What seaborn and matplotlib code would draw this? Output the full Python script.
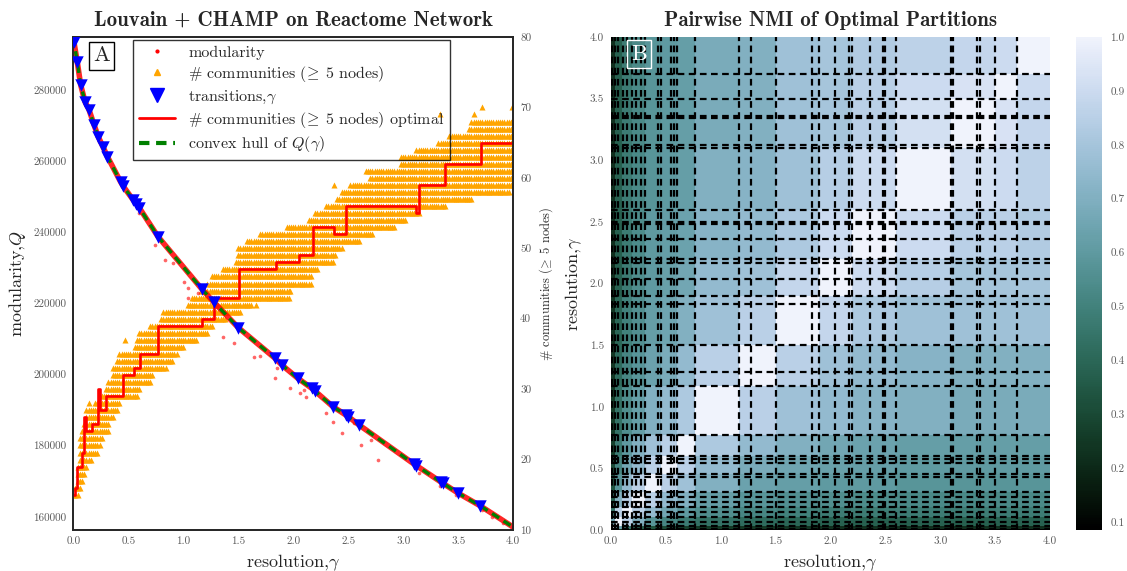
import numpy as np
import seaborn as sns
import matplotlib.pyplot as plt
from matplotlib.lines import Line2D

sns.set_style("white")
plt.rcParams['font.family'] = ['cmr10', 'DejaVu Serif']
plt.rcParams['mathtext.fontset'] = 'cm'
plt.rcParams['axes.unicode_minus'] = False

# transitions of the optimal partition (gamma) and modularity there (hull vertices)
trans_gamma = [0.0, 0.006, 0.036, 0.067, 0.107, 0.143, 0.189, 0.228, 0.271, 0.31,
               0.43, 0.455, 0.547, 0.574, 0.60, 0.77, 1.17, 1.28, 1.50, 1.83,
               1.90, 2.04, 2.17, 2.20, 2.36, 2.48, 2.50, 2.60, 3.10, 3.12,
               3.34, 3.36, 3.50, 3.70]
trans_Q = [294700, 293500, 288000, 281500, 276700, 274500, 270200, 266800, 264000, 261300,
           254200, 252900, 249000, 248000, 246900, 238800, 224000, 220300, 213200, 204700,
           202600, 199000, 196100, 195300, 191000, 188600, 188200, 185800, 174800, 174400,
           169850, 169450, 166650, 163100]
hull_gamma = trans_gamma + [4.0]
hull_Q = trans_Q + [157100]

# louvain runs that fell visibly under the hull
stray_gamma = [0.74, 0.83, 0.91, 1.01, 1.04, 1.04, 1.13, 1.36, 1.46, 1.64, 1.85, 1.83, 1.97,
               2.06, 2.12, 2.10, 2.30, 2.36, 2.44, 2.62, 2.71, 2.77, 3.14, 3.33, 3.48, 3.72,
               3.81, 3.91, 0.60, 1.70, 2.55, 3.00]
stray_Q = [236450, 232230, 231300, 226130, 224280, 221470, 222870, 210680, 208820, 205050,
           201790, 198980, 196170, 194770, 193810, 195690, 189150, 186790, 183520, 180240,
           181640, 176020, 172280, 168710, 166180, 161970, 160080, 158230, 245500, 205300,
           186500, 177000]

# number of communities (>= 5 nodes) found by the runs: gamma range of each count
comm_count = list(range(15, 69))
comm_lo = [0.00, 0.01, 0.03, 0.03, 0.03, 0.045, 0.045, 0.045, 0.06, 0.075,
           0.09, 0.105, 0.105, 0.20, 0.25, 0.29, 0.31, 0.35, 0.36, 0.39,
           0.41, 0.56, 0.57, 0.60, 0.69, 0.79, 0.82, 1.03, 1.07, 1.15,
           1.21, 1.25, 1.36, 1.48, 1.49, 1.49, 1.57, 1.69, 1.93, 2.14,
           2.20, 2.29, 2.40, 2.43, 2.52, 2.69, 2.65, 2.97, 2.97, 3.12,
           3.32, 3.41, 3.59, 3.62]
comm_hi = [0.05, 0.06, 0.09, 0.11, 0.12, 0.17, 0.23, 0.24, 0.26, 0.32,
           0.32, 0.36, 0.41, 0.42, 0.59, 0.61, 0.70, 0.72, 0.84, 0.91,
           0.94, 1.00, 1.13, 1.22, 1.27, 1.39, 1.52, 1.63, 1.96, 1.96,
           2.16, 2.17, 2.22, 2.37, 2.38, 2.44, 2.61, 2.72, 2.93, 3.03,
           3.15, 3.38, 3.62, 3.97, 4.00, 4.00, 4.00, 4.00, 4.00, 4.00,
           4.00, 4.00, 4.00, 4.00]
extra_gamma = [3.64, 3.72, 3.99, 2.37, 1.66, 1.97, 0.14, 0.47, 2.62, 3.33]
extra_count = [69, 70, 70, 59, 42, 44, 28, 37, 53, 69]
run_gamma = np.round(np.arange(0, 4.0001, 0.02), 2)

# optimal number of communities, step positions
opt_gamma = [0.0, 0.012, 0.03, 0.076, 0.100, 0.112, 0.173, 0.228, 0.240, 0.300,
             0.455, 0.548, 0.606, 0.773, 1.170, 1.280, 1.505, 1.845, 2.050, 2.180,
             2.370, 2.480, 3.120, 3.140, 3.380, 3.710, 4.0]
opt_count = [15, 16, 19, 21, 26, 24, 25, 30, 27, 29,
             32, 33, 35, 39, 40, 43, 47, 48, 49, 53,
             52, 56, 55, 59, 62, 65, 65]

# pairwise NMI between optimal partitions, grouped over gamma ranges (lower triangle)
grp_edges = [0.0, 0.006, 0.036, 0.107, 0.189, 0.31, 0.455, 0.60, 0.77, 1.17,
             1.50, 1.90, 2.20, 2.60, 3.10, 3.50, 3.70, 4.0]
nmi_rows = [
    [1.0],
    [0.35, 1.0],
    [0.22, 0.65, 1.0],
    [0.17, 0.45, 0.85, 1.0],
    [0.15, 0.38, 0.70, 0.85, 1.0],
    [0.14, 0.33, 0.58, 0.75, 0.85, 1.0],
    [0.13, 0.30, 0.52, 0.66, 0.75, 0.85, 1.0],
    [0.12, 0.27, 0.48, 0.60, 0.70, 0.78, 0.85, 1.0],
    [0.11, 0.25, 0.44, 0.55, 0.62, 0.70, 0.75, 0.82, 1.0],
    [0.10, 0.24, 0.42, 0.52, 0.58, 0.64, 0.68, 0.75, 0.85, 1.0],
    [0.10, 0.23, 0.40, 0.50, 0.56, 0.62, 0.65, 0.70, 0.78, 0.85, 1.0],
    [0.10, 0.22, 0.38, 0.48, 0.55, 0.60, 0.63, 0.66, 0.75, 0.78, 0.88, 1.0],
    [0.10, 0.22, 0.38, 0.48, 0.54, 0.60, 0.62, 0.64, 0.72, 0.75, 0.82, 0.90, 1.0],
    [0.09, 0.22, 0.38, 0.48, 0.53, 0.58, 0.60, 0.62, 0.70, 0.72, 0.78, 0.84, 0.90, 1.0],
    [0.09, 0.22, 0.38, 0.48, 0.53, 0.58, 0.60, 0.62, 0.68, 0.70, 0.78, 0.80, 0.85, 0.92, 1.0],
    [0.09, 0.22, 0.38, 0.48, 0.53, 0.58, 0.60, 0.62, 0.68, 0.70, 0.78, 0.80, 0.85, 0.90, 0.93, 1.0],
    [0.085, 0.22, 0.38, 0.48, 0.53, 0.58, 0.60, 0.62, 0.68, 0.70, 0.78, 0.80, 0.83, 0.86, 0.88, 0.90, 1.0],
]

fig = plt.figure(figsize=(11.27, 5.71), dpi=100)
ax = fig.add_axes([0.0650, 0.0718, 0.3904, 0.8634])
ax2 = ax.twinx()
ax.set_zorder(ax2.get_zorder() + 1)
ax.patch.set_visible(False)

# --- panel A ---
tri_g, tri_c = [], []
for c, lo, hi in zip(comm_count, comm_lo, comm_hi):
    sel = run_gamma[(run_gamma >= lo - 1e-9) & (run_gamma <= hi + 1e-9)]
    tri_g += list(sel)
    tri_c += [c] * len(sel)
tri_g += extra_gamma
tri_c += extra_count
sns.scatterplot(x=tri_g, y=tri_c, marker='^', color='orange', s=19, linewidth=0, ax=ax2)
sns.lineplot(x=opt_gamma, y=opt_count, color='red', lw=1.9, drawstyle='steps-post',
             ax=ax2, zorder=3)

sns.scatterplot(x=stray_gamma, y=stray_Q, color='red', s=7, alpha=0.6, linewidth=0, ax=ax)
sns.lineplot(x=hull_gamma, y=hull_Q, color='red', lw=4, alpha=0.85, ax=ax)
sns.lineplot(x=hull_gamma, y=hull_Q, color='green', lw=2.4, linestyle=(0, (2.5, 1.6)), ax=ax)
sns.scatterplot(x=trans_gamma, y=trans_Q, marker='v', color='blue', s=80, linewidth=0,
                ax=ax, zorder=5)

ax.set_xlim(0, 4)
ax.set_ylim(156300, 294900)
ax2.set_ylim(10, 80)
xt = np.arange(0, 4.01, 0.5)
ax.set_xticks(xt)
ax.set_xticklabels([f'{t:.1f}' for t in xt])
yt = np.arange(160000, 280001, 20000)
ax.set_yticks(yt)
ax.set_yticklabels([str(int(t)) for t in yt])
ax2.set_yticks(range(10, 81, 10))
ax2.set_yticklabels([str(t) for t in range(10, 81, 10)])
for a in (ax, ax2):
    a.tick_params(labelsize=8, labelcolor='0.35', length=0, pad=5)
    for s in a.spines.values():
        s.set_color('0.15')
        s.set_linewidth(1.25)
geq5 = '($\\!{\\geq}\\;5$ nodes)'
ax.set_xlabel('resolution,$\\gamma$', fontsize=13)
ax.set_ylabel('modularity,$Q$', fontsize=13)
ax2.set_ylabel('# communities ' + geq5, fontsize=9)
ax.set_title('Louvain + CHAMP on Reactome Network', fontsize=15, family='cmb10', pad=8)
ax.text(0.064, 0.962, 'A', transform=ax.transAxes, fontsize=16, ha='center', va='center',
        bbox=dict(boxstyle='square,pad=0.2', fc='white', ec='black', lw=1), zorder=10)

handles = [
    Line2D([], [], ls='', marker='.', color='red', ms=4),
    Line2D([], [], ls='', marker='^', color='orange', ms=5),
    Line2D([], [], ls='', marker='v', color='blue', ms=10),
    Line2D([], [], color='red', lw=2),
    Line2D([], [], color='green', lw=3, ls=(0, (2.5, 1.6))),
]
labels = ['modularity', '# communities ' + geq5, 'transitions,$\\gamma$',
          '# communities ' + geq5 + ' optimal', 'convex hull of $Q(\\gamma)$']
leg = ax.legend(handles, labels, loc='upper left', bbox_to_anchor=(0.136, 0.994),
                borderaxespad=0, fontsize=11.5, handlelength=2.3, labelspacing=0.27,
                borderpad=0.35, frameon=True, fancybox=False, facecolor='none',
                edgecolor='black')
leg.get_frame().set_linewidth(1.0)

# --- panel B ---
n = 800
nmi = np.zeros((len(nmi_rows), len(nmi_rows)))
for i, row in enumerate(nmi_rows):
    nmi[i, :i + 1] = row
    nmi[:i + 1, i] = row
centers = (np.arange(n) + 0.5) * 4.0 / n
gi = np.searchsorted(grp_edges, centers, side='right') - 1
grid = nmi[np.ix_(gi, gi)]

cmap = sns.cubehelix_palette(start=2, rot=0.3, dark=0, light=0.95, reverse=True, as_cmap=True)
axh = fig.add_axes([0.5421, 0.0718, 0.3895, 0.8634])
cax = fig.add_axes([0.9548, 0.0718, 0.0231, 0.8634])
sns.heatmap(grid, cmap=cmap, ax=axh, cbar_ax=cax, xticklabels=False, yticklabels=False,
            rasterized=True)
axh.invert_yaxis()
for g in trans_gamma[1:]:
    axh.axvline(g * n / 4, color='black', lw=1.6, ls=(0, (3, 2)))
    axh.axhline(g * n / 4, color='black', lw=1.6, ls=(0, (3, 2)))
axh.set_xticks(xt * n / 4)
axh.set_xticklabels([f'{t:.1f}' for t in xt], rotation=0)
axh.set_yticks(xt * n / 4)
axh.set_yticklabels([f'{t:.1f}' for t in xt], rotation=0)
axh.tick_params(labelsize=8, labelcolor='0.35', length=0, pad=5)
cticks = np.round(np.arange(0.1, 1.01, 0.1), 1)
cax.set_yticks(cticks)
cax.set_yticklabels([f'{t:.1f}' for t in cticks])
cax.tick_params(labelsize=8, labelcolor='0.35', length=0, pad=6)
axh.set_xlabel('resolution,$\\gamma$', fontsize=13)
axh.set_ylabel('resolution,$\\gamma$', fontsize=13)
axh.set_title('Pairwise NMI of Optimal Partitions', fontsize=15, family='cmb10', pad=8)
axh.text(0.064, 0.966, 'B', transform=axh.transAxes, fontsize=16, ha='center', va='center',
         color='white', bbox=dict(boxstyle='square,pad=0.2', fc='none', ec='white', lw=1),
         zorder=10)

fig.savefig('out.png', dpi=100)
